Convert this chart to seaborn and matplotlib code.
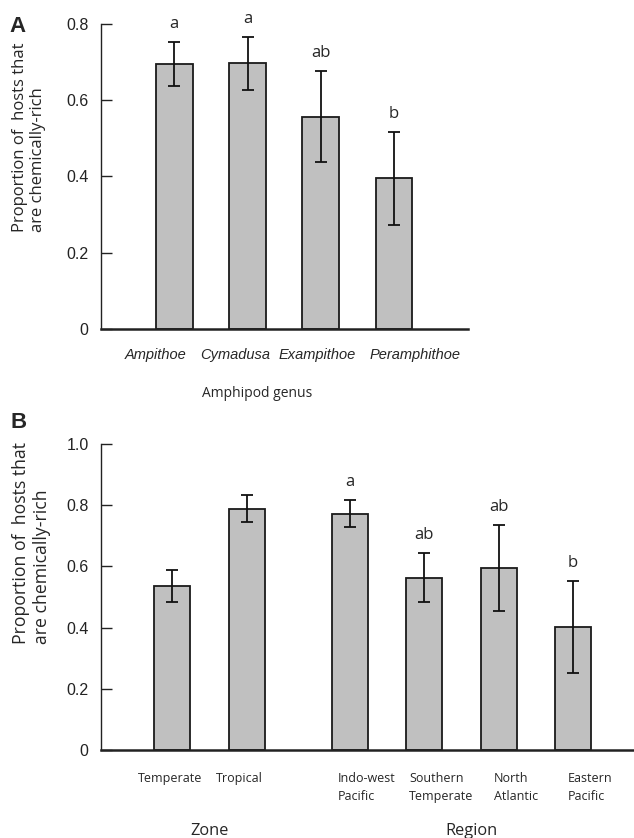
import numpy as np
import pandas as pd
import seaborn as sns
import matplotlib.pyplot as plt
from matplotlib.transforms import ScaledTranslation

# Panel A: amphipod genera
genera = ['Ampithoe', 'Cymadusa', 'Exampithoe', 'Peramphithoe']
genus_prop = [0.695, 0.697, 0.557, 0.395]
genus_se = [0.058, 0.070, 0.120, 0.122]
genus_letters = ['a', 'a', 'ab', 'b']

# Panel B: zone and region
zones = ['Temperate', 'Tropical']
zone_prop = [0.535, 0.789]
zone_se = [0.052, 0.045]

regions = ['Indo-west\nPacific', 'Southern\nTemperate', 'North\nAtlantic', 'Eastern\nPacific']
region_prop = [0.772, 0.563, 0.595, 0.403]
region_se = [0.044, 0.080, 0.140, 0.150]
region_letters = ['a', 'ab', 'ab', 'b']

ylab = 'Proportion of  hosts that\nare chemically-rich'

sns.set_style('ticks')
plt.rcParams['font.family'] = ['Open Sans', 'DejaVu Sans']
plt.rcParams['axes.edgecolor'] = '#222222'

bar_color = '#c0c0c0'
edge = '#1a1a1a'

fig = plt.figure(figsize=(6.34, 8.38), dpi=100)
ax_a = fig.add_axes([101 / 634, 1 - 329 / 838, 367 / 634, 305 / 838])
ax_b = fig.add_axes([101 / 634, 1 - 750 / 838, 533 / 634, 306 / 838])


def add_errors(ax, centers, vals, errs, letters=None):
    ax.errorbar(centers, vals, yerr=errs, fmt='none', ecolor='#111111',
                elinewidth=1.3, capsize=4, capthick=1.3, zorder=3)
    if letters is None:
        return
    for x, v, e, l in zip(centers, vals, errs, letters):
        ax.annotate(l, (x, v + e), xytext=(0, 13), textcoords='offset points',
                    ha='center', va='center', fontsize=12, annotation_clip=False)


def style_axis(ax, ymax, yticks, ylabels):
    sns.despine(ax=ax)
    ax.spines['bottom'].set_linewidth(1.8)
    ax.spines['left'].set_linewidth(1.0)
    ax.set_ylim(0, ymax)
    ax.set_yticks(yticks, ylabels, family='Liberation Sans', fontsize=11.5)
    ax.tick_params(axis='y', direction='in', length=8, width=1, pad=9, colors='#222222')
    ax.tick_params(axis='x', length=0)


def shift_labels(labels, offsets_px):
    for lbl, dx in zip(labels, offsets_px):
        lbl.set_transform(lbl.get_transform() + ScaledTranslation(dx / 100, 0, fig.dpi_scale_trans))


# ---- Panel A
df_a = pd.DataFrame({'genus': genera, 'prop': genus_prop})
sns.barplot(data=df_a, x='genus', y='prop', color=bar_color, saturation=1,
            edgecolor=edge, linewidth=1.3, width=0.5, errorbar=None, ax=ax_a)
centers_a = [p.get_x() + p.get_width() / 2 for p in ax_a.patches]
add_errors(ax_a, centers_a, genus_prop, genus_se, genus_letters)
style_axis(ax_a, 0.8, [0, 0.2, 0.4, 0.6, 0.8], ['0', '0.2', '0.4', '0.6', '0.8'])
ax_a.set_xlim(-1.0, 4.01)
ax_a.set_xticks(range(len(genera)), genera, fontstyle='italic',
                family='Liberation Sans', fontsize=10.5)
ax_a.tick_params(axis='x', pad=14)
shift_labels(ax_a.get_xticklabels(), [-19, -12, -4, 21])
ax_a.set_xlabel('Amphipod genus', fontsize=10, va='center')
ax_a.xaxis.set_label_coords(0.425, -0.213)
ax_a.set_ylabel(ylab, fontsize=12, va='center', multialignment='left')
ax_a.yaxis.set_label_coords(-0.196, 0.628)

# ---- Panel B
gap = 0.38
zone_x = np.arange(len(zones))
region_x = np.arange(len(regions)) + len(zones) + gap
df_b = pd.DataFrame({'x': np.concatenate([zone_x, region_x]),
                     'prop': zone_prop + region_prop})
sns.barplot(data=df_b, x='x', y='prop', native_scale=True, color=bar_color,
            saturation=1, edgecolor=edge, linewidth=1.3, width=0.483,
            errorbar=None, ax=ax_b)
add_errors(ax_b, zone_x, zone_prop, zone_se)
add_errors(ax_b, region_x, region_prop, region_se, region_letters)
style_axis(ax_b, 1.0, [0, 0.2, 0.4, 0.6, 0.8, 1.0],
           ['0', '0.2', '0.4', '0.6', '0.8', '1.0'])
ax_b.set_xlim(-0.957, 6.197)
ax_b.set_xticks(np.concatenate([zone_x, region_x]), zones + regions,
                fontsize=9, multialignment='left', linespacing=1.5)
ax_b.tick_params(axis='x', pad=16)
shift_labels(ax_b.get_xticklabels(), [-2, -7] + [17] * len(regions))
ax_b.set_xlabel('')
ax_b.text(zone_x.mean(), -0.265, 'Zone', fontsize=11.8, ha='center', va='center',
          transform=ax_b.get_xaxis_transform())
ax_b.text(region_x.mean() + 0.13, -0.265, 'Region', fontsize=11.8, ha='center', va='center',
          transform=ax_b.get_xaxis_transform())
ax_b.set_ylabel(ylab, fontsize=12.7, va='center', multialignment='left')
ax_b.yaxis.set_label_coords(-0.131, 0.675)

# panel letters
fig.text(9 / 634, 1 - 32 / 838, 'A', fontsize=16, fontweight='bold',
         family='Liberation Sans', va='baseline')
fig.text(10 / 634, 1 - 428 / 838, 'B', fontsize=16, fontweight='bold',
         family='Liberation Sans', va='baseline')

fig.savefig('out.png', dpi=100)
